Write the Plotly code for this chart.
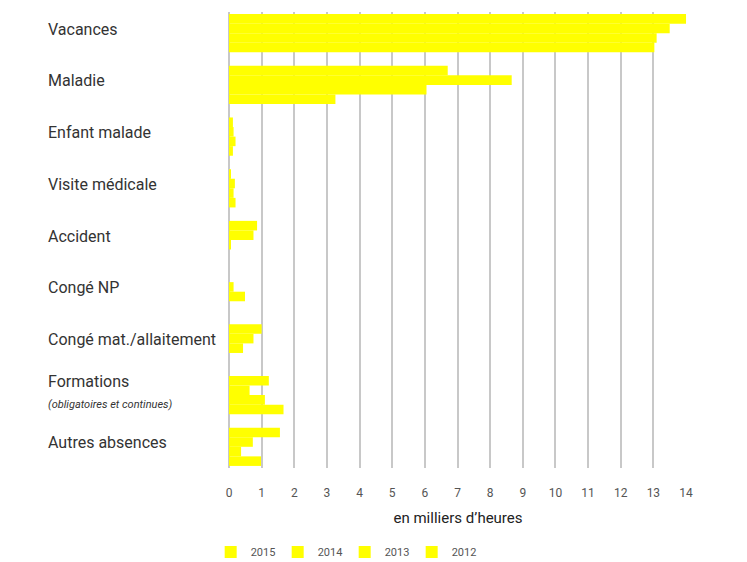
import plotly.graph_objects as go

categories = ["Vacances", "Maladie", "Enfant malade", "Visite médicale", "Accident",
              "Congé NP", "Congé mat./allaitement", "Formations", "Autres absences"]
category_labels = ["Vacances", "Maladie", "Enfant malade", "Visite médicale", "Accident",
                   "Congé NP", "Congé mat./allaitement",
                   "Formations<br><i><span style='font-size:11px'>(obligatoires et continues)</span></i>",
                   "Autres absences"]
years = ["2015", "2014", "2013", "2012"]
values = {
    "2015": [14.0, 6.7, 0.12, 0.06, 0.86, 0.0, 1.0, 1.22, 1.56],
    "2014": [13.5, 8.66, 0.14, 0.18, 0.75, 0.14, 0.75, 0.63, 0.73],
    "2013": [13.1, 6.05, 0.2, 0.14, 0.06, 0.49, 0.43, 1.1, 0.37],
    "2012": [13.03, 3.26, 0.12, 0.2, 0.0, 0.0, 0.0, 1.67, 0.98],
}
tick_vals = list(range(0, 15))

fig = go.Figure()
for yr in years:
    fig.add_trace(go.Bar(
        y=categories, x=values[yr], name=yr, orientation="h",
        marker=dict(color="#FFFF00", line=dict(width=0)),
    ))

for cat, lab in zip(categories, category_labels):
    fig.add_annotation(
        x=-0.3996, xref="paper", y=cat, yref="y", text=lab, showarrow=False,
        xanchor="left", yanchor="middle", align="left", yshift=4,
        font=dict(family="Roboto", size=16, color="#333333"),
    )

fig.update_layout(
    width=747, height=562,
    margin=dict(l=229, r=60, t=12, b=94),
    paper_bgcolor="white", plot_bgcolor="white",
    barmode="group", bargap=0.26, bargroupgap=0,
    showlegend=True,
    legend=dict(orientation="h", x=-0.04, xanchor="left",
                yref="container", y=0.018, yanchor="middle",
                font=dict(family="Roboto", size=11, color="#555555"),
                traceorder="normal", entrywidth=22, entrywidthmode="pixels"),
    font=dict(family="Roboto"),
)
fig.update_xaxes(
    range=[0, 14.03], tickvals=tick_vals, showgrid=True, gridcolor="#c8c8c8", gridwidth=1.5,
    zeroline=True, zerolinecolor="#c8c8c8", zerolinewidth=1.5, automargin=False,
    showline=False, ticks="", ticklabelstandoff=16,
    tickfont=dict(family="Roboto", size=12, color="#555555"),
    title=dict(text="en milliers d’heures", standoff=13,
               font=dict(family="Roboto", size=15, color="#222222")),
)
fig.update_yaxes(
    categoryorder="array", categoryarray=categories, range=[8.41, -0.41], automargin=False,
    showticklabels=False, showgrid=False, ticks="", showline=False,
)
fig.write_html("out.html")
